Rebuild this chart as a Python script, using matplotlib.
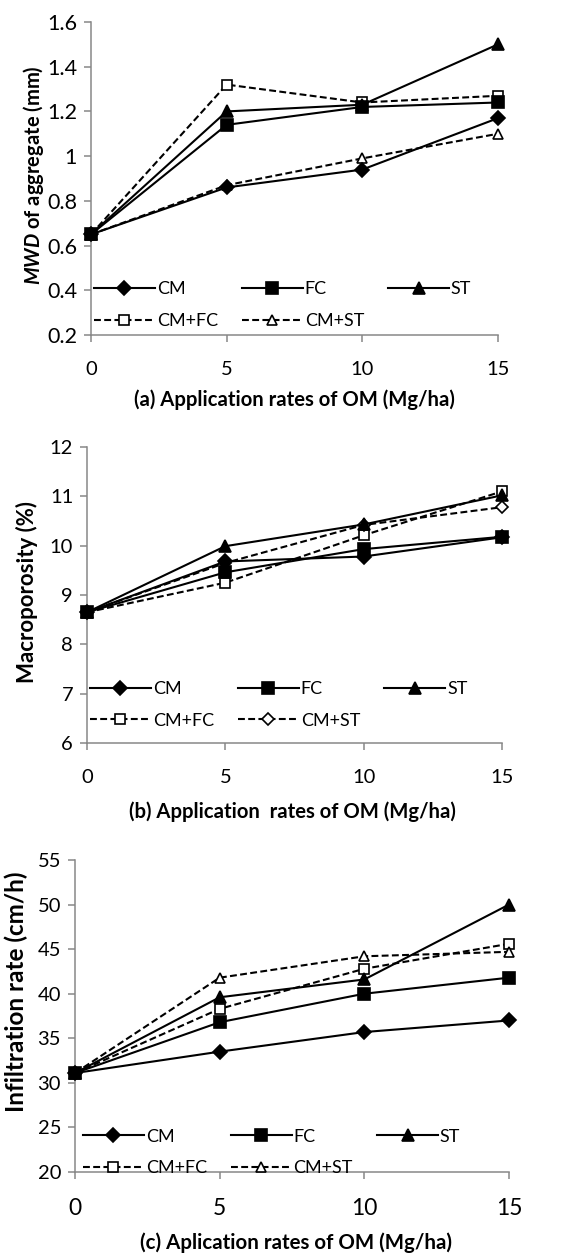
import matplotlib
matplotlib.use('Agg')
import matplotlib.pyplot as plt

plt.rcParams['font.family'] = ['Lato', 'DejaVu Sans']
plt.rcParams['mathtext.fontset'] = 'custom'
plt.rcParams['mathtext.bfit'] = 'Lato:italic:bold'
plt.rcParams['mathtext.rm'] = 'Lato:bold'

# x values: application rates of OM (Mg/ha)
rates = [0, 5, 10, 15]

# (a) MWD of aggregate (mm)
mwd_cm = [0.65, 0.86, 0.94, 1.17]
mwd_fc = [0.65, 1.14, 1.22, 1.24]
mwd_st = [0.65, 1.20, 1.23, 1.50]
mwd_cmfc = [0.65, 1.32, 1.24, 1.27]
mwd_cmst = [0.65, 0.87, 0.99, 1.10]

# (b) Macroporosity (%)
mac_cm = [8.65, 9.68, 9.78, 10.17]
mac_fc = [8.65, 9.46, 9.93, 10.18]
mac_st = [8.65, 9.99, 10.43, 11.02]
mac_cmfc = [8.65, 9.25, 10.21, 11.10]
mac_cmst = [8.65, 9.65, 10.42, 10.78]

# (c) Infiltration rate (cm/h)
inf_cm = [31.1, 33.5, 35.7, 37.0]
inf_fc = [31.1, 36.8, 40.0, 41.8]
inf_st = [31.1, 39.6, 41.6, 50.0]
inf_cmfc = [31.1, 38.3, 42.8, 45.6]
inf_cmst = [31.1, 41.8, 44.2, 44.7]

labels = ['CM', 'FC', 'ST', 'CM+FC', 'CM+ST']

GREY = '#878787'
W, H = 581, 1257
fig = plt.figure(figsize=(W / 100, H / 100), dpi=100)


def px_axes(left, right, top, bottom):
    return fig.add_axes([left / W, 1 - bottom / H, (right - left) / W, (bottom - top) / H])


def draw_panel(ax, series, styles, ylim, yticks, yfmt, ylabel, xlabel,
               sizes, ylab_pos, xlab_pos, leg_anchor):
    ytick_fs, xtick_fs, ylab_fs, xlab_fs = sizes
    handles = []
    zorders = [3.0, 3.2, 3.1, 2.0, 2.1]
    for vals, (marker, filled, dashed, ms), lab, zo in zip(series, styles, labels, zorders):
        ln, = ax.plot(rates, vals, color='black', lw=1.5,
                      linestyle=(0, (3.3, 1.6)) if dashed else '-',
                      marker=marker, markersize=ms,
                      markerfacecolor='black' if filled else 'white',
                      markeredgecolor='black', markeredgewidth=1.2,
                      clip_on=False, label=lab, zorder=zo)
        handles.append(ln)
    ax.set_xlim(0, 15)
    ax.set_ylim(*ylim)
    ax.set_xticks(rates)
    ax.set_yticks(yticks)
    ax.set_yticklabels([yfmt(v) for v in yticks])
    for s in ['top', 'right']:
        ax.spines[s].set_visible(False)
    for s in ['left', 'bottom']:
        ax.spines[s].set_color(GREY)
        ax.spines[s].set_linewidth(1.1)
    ax.tick_params(axis='y', colors=GREY, length=5, width=1.1, labelsize=ytick_fs,
                   labelcolor='black', pad=5)
    ax.tick_params(axis='x', colors=GREY, length=5, width=1.1, labelsize=xtick_fs,
                   labelcolor='black', pad=14)
    ax.set_ylabel(ylabel, fontsize=ylab_fs, fontweight='bold')
    ax.yaxis.set_label_coords(*ylab_pos)
    ax.yaxis.label.set_va('center')
    ax.set_xlabel(xlabel, fontsize=xlab_fs, fontweight='bold')
    ax.xaxis.set_label_coords(*xlab_pos)
    ax.xaxis.label.set_va('center')
    order = [0, 3, 1, 4, 2]
    ax.legend([handles[i] for i in order], [labels[i] for i in order],
              ncol=3, loc='upper left', bbox_to_anchor=leg_anchor,
              frameon=False, fontsize=13, handlelength=3.38,
              handletextpad=0.1, columnspacing=1.33, labelspacing=0.85,
              borderaxespad=0, borderpad=0)


# panel (a)
ax_a = px_axes(91, 498, 22, 335)
draw_panel(ax_a, [mwd_cm, mwd_fc, mwd_st, mwd_cmfc, mwd_cmst],
           [('D', True, False, 7.5), ('s', True, False, 8.5), ('^', True, False, 8.5),
            ('s', False, True, 7.5), ('^', False, True, 7.5)],
           (0.2, 1.6), [0.2, 0.4, 0.6, 0.8, 1.0, 1.2, 1.4, 1.6],
           lambda v: '1' if v == 1.0 else f'{v:.1f}',
           r'$\mathbfit{MWD}$ of aggregate (mm)',
           '(a) Application rates of OM (Mg/ha)',
           (15.5, 14.5, 14.5, 14.6),
           (-0.1425, 0.51), (0.499, -0.208), (0.007, 0.171))

# panel (b)
ax_b = px_axes(87, 502, 447, 743)
draw_panel(ax_b, [mac_cm, mac_fc, mac_st, mac_cmfc, mac_cmst],
           [('D', True, False, 7.5), ('s', True, False, 8.5), ('^', True, False, 8.5),
            ('s', False, True, 7.5), ('D', False, True, 6.5)],
           (6, 12), [6, 7, 8, 9, 10, 11, 12], lambda v: f'{v:g}',
           'Macroporosity (%)',
           '(b) Application  rates of OM (Mg/ha)',
           (14.5, 14.5, 16, 14.6),
           (-0.1446, 0.51), (0.494, -0.233), (0.007, 0.208))

# panel (c)
ax_c = px_axes(75, 509, 860, 1172)
draw_panel(ax_c, [inf_cm, inf_fc, inf_st, inf_cmfc, inf_cmst],
           [('D', True, False, 7), ('s', True, False, 8.5), ('^', True, False, 8.5),
            ('s', False, True, 7.5), ('^', False, True, 7.5)],
           (20, 55), [20, 25, 30, 35, 40, 45, 50, 55], lambda v: f'{v:g}',
           'Infiltration rate (cm/h)',
           '(c) Aplication rates of OM (Mg/ha)',
           (14.5, 16.5, 17.5, 14.8),
           (-0.136, 0.577), (0.51, -0.228), (0.018, 0.139))

fig.savefig('out.png', dpi=100, facecolor='white')
